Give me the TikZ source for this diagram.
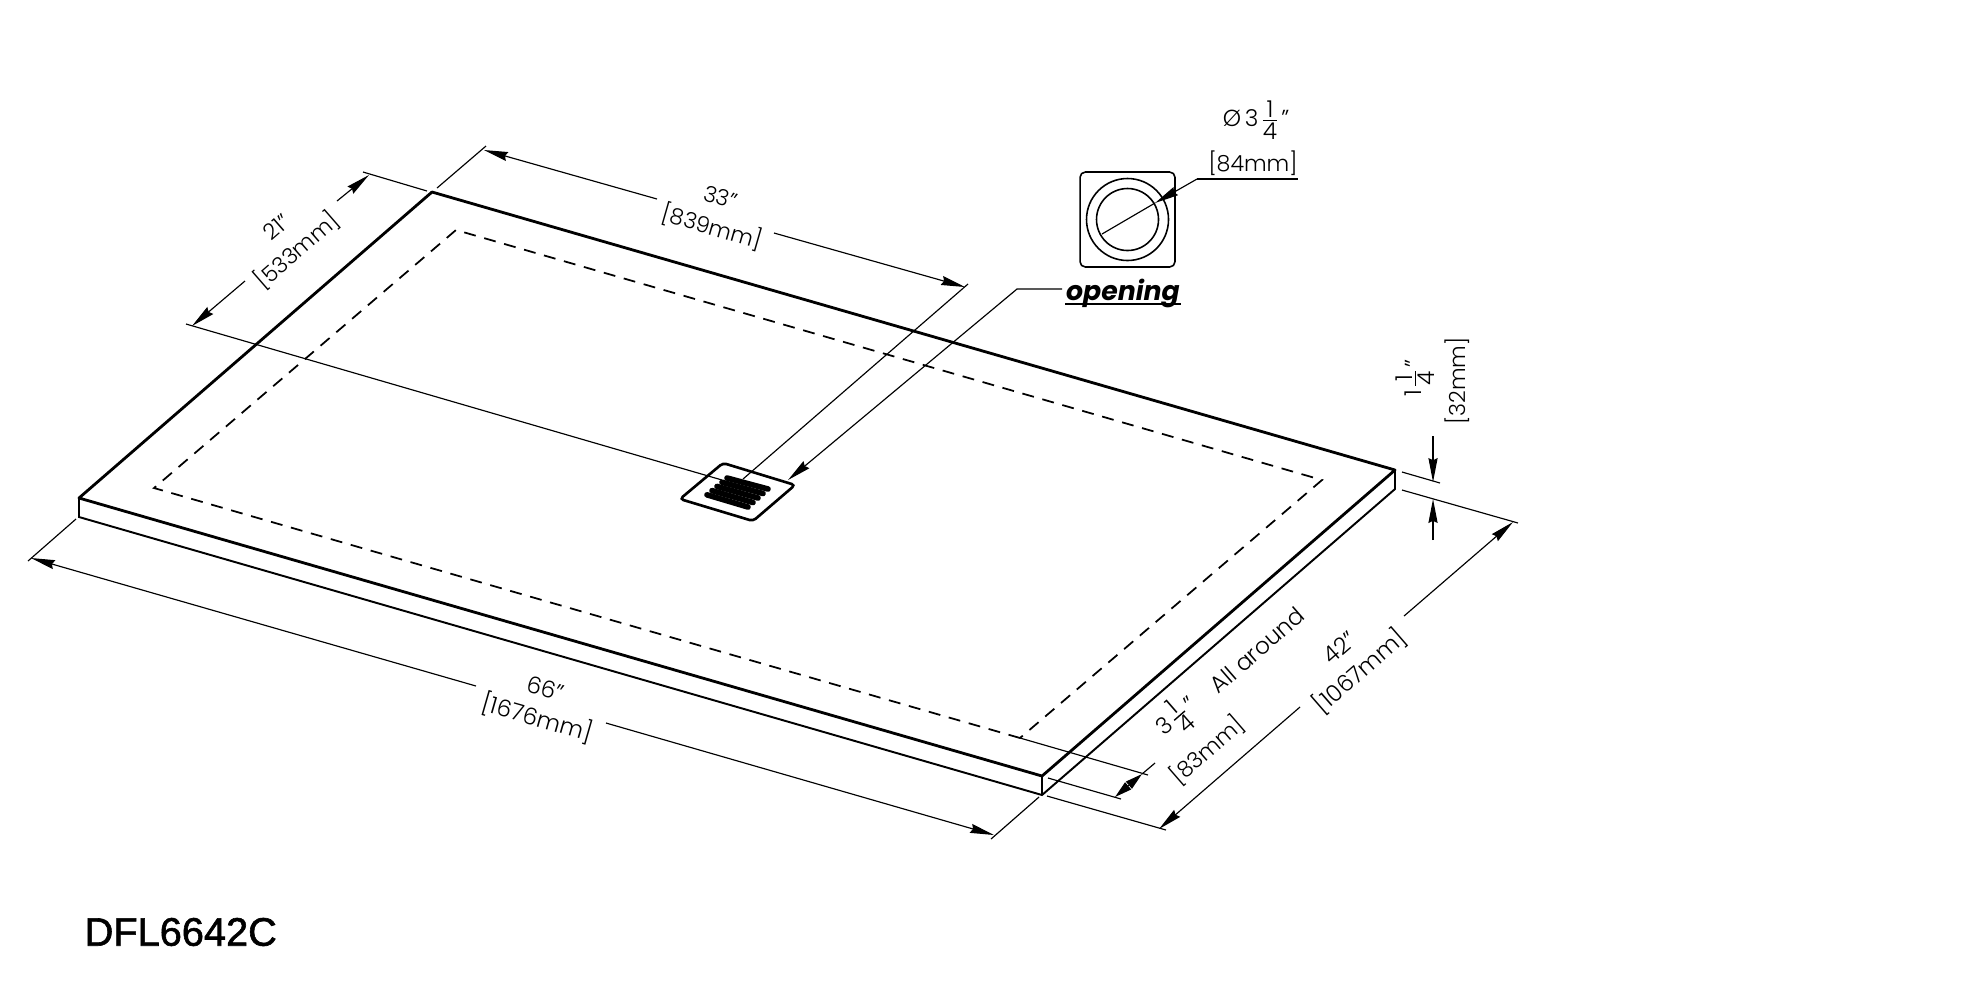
\documentclass[tikz,border=0pt]{standalone}
\usepackage{fontspec}
\usetikzlibrary{arrows.meta}
\setmainfont{Poppins Light}
\newfontfamily\openfont{Poppins}
\newfontfamily\titlefont[FakeBold=1.5]{Liberation Sans}
\newcommand{\dimfrac}[2]{$\frac{\mbox{#1}}{\mbox{#2}}$}
\begin{document}
\begin{tikzpicture}[
  x=0.01cm, y=-0.01cm,
  font=\fontsize{6.6}{8.8}\selectfont,
  edgeline/.style={line width=0.8pt, line join=round},
  lowline/.style={line width=0.55pt},
  dimline/.style={line width=0.33pt},
  arrowline/.style={line width=0.33pt, -{Stealth[length=6.8pt,width=2.6pt,inset=0.6pt]}},
  hiddenline/.style={line width=0.5pt, dash pattern=on 3.4pt off 2.5pt},
  dimtext/.style={inner sep=0pt, align=center},
  shorttext/.style={dimtext, font=\fontsize{6.3}{8.8}\selectfont}
]
\useasboundingbox (0,0) rectangle (1980,990);

% Plate corners
\coordinate (left) at (79,498);
\coordinate (leftlow) at (79,517);
\coordinate (back) at (432,192);
\coordinate (right) at (1395,470);
\coordinate (rightlow) at (1395,489);
\coordinate (front) at (1042,776);
\coordinate (frontlow) at (1042,795);

% Hidden border corners
\coordinate (hidleft) at (154,488);
\coordinate (hidback) at (456,230);
\coordinate (hidright) at (1322,480);
\coordinate (hidfront) at (1020,738);

% Plate
\draw[edgeline] (left) -- (back) -- (right) -- (front) -- cycle;
\draw[lowline] (left) -- (leftlow) -- (frontlow) -- (rightlow) -- (right);
\draw[lowline] (front) -- (frontlow);
\draw[hiddenline] (hidfront) -- (hidleft) -- (hidback) -- (hidright) -- (hidfront);

% Drain plate
\coordinate (draintop) at (723,463);
\coordinate (drainright) at (795,485);
\coordinate (drainlow) at (753,521);
\coordinate (drainleft) at (680,499);
\draw[line width=0.75pt, rounded corners=1pt] (draintop) -- (drainright) -- (drainlow) -- (drainleft) -- cycle;
\foreach \i in {0,1,2,3,4} {
  \draw[line width=1.6pt, line cap=round] ({727-5*\i},{478+4.2*\i}) -- ({768-5*\i},{489+4.5*\i});
}

% 66 inch dimension
\coordinate (a66) at (76,519);
\coordinate (b66) at (28,561);
\coordinate (c66) at (1039,797);
\coordinate (d66) at (991,839);
\coordinate (tipa66) at (31,558);
\coordinate (enda66) at (476,686);
\coordinate (tipb66) at (994,835);
\coordinate (endb66) at (606,723);
\draw[dimline] (a66) -- (b66);
\draw[dimline] (c66) -- (d66);
\draw[arrowline] (enda66) -- (tipa66);
\draw[arrowline] (endb66) -- (tipb66);
\node[dimtext, rotate=-16] (label66) at (541,705) {66"\\{[}1676mm{]}};

% 33 inch dimension
\coordinate (a33) at (437,188);
\coordinate (b33) at (486,146);
\coordinate (c33) at (743,479);
\coordinate (d33) at (968,284);
\coordinate (tipa33) at (484,150);
\coordinate (enda33) at (657,199);
\coordinate (tipb33) at (965,287);
\coordinate (endb33) at (774,233);
\draw[dimline] (a33) -- (b33);
\draw[dimline] (c33) -- (d33);
\draw[arrowline] (enda33) -- (tipa33);
\draw[arrowline] (endb33) -- (tipb33);
\node[shorttext, rotate=-16] (label33) at (716,214) {33"\\{[}839mm{]}};

% 21 inch dimension
\coordinate (a21) at (427,191);
\coordinate (b21) at (363,172);
\coordinate (c21) at (722,480);
\coordinate (d21) at (186,324);
\coordinate (tipa21) at (369,175);
\coordinate (enda21) at (337,201);
\coordinate (tipb21) at (192,326);
\coordinate (endb21) at (245,281);
\draw[dimline] (a21) -- (b21);
\draw[dimline] (c21) -- (d21);
\draw[arrowline] (enda21) -- (tipa21);
\draw[arrowline] (endb21) -- (tipb21);
\node[shorttext, rotate=41] (label21) at (288,240) {21"\\{[}533mm{]}};

% 42 inch dimension
\coordinate (a42) at (1402,490);
\coordinate (b42) at (1518,523);
\coordinate (c42) at (1047,796);
\coordinate (d42) at (1166,830);
\coordinate (tipa42) at (1513,522);
\coordinate (enda42) at (1404,616);
\coordinate (tipb42) at (1159,829);
\coordinate (endb42) at (1300,707);
\draw[dimline] (a42) -- (b42);
\draw[dimline] (c42) -- (d42);
\draw[arrowline] (enda42) -- (tipa42);
\draw[arrowline] (endb42) -- (tipb42);
\node[dimtext, rotate=41] (label42) at (1351,661) {42"\\{[}1067mm{]}};

% Border width dimension
\coordinate (a83) at (1148,775);
\coordinate (c83) at (1048,778);
\coordinate (d83) at (1121,799);
\coordinate (tipa83) at (1115,797);
\coordinate (tipb83) at (1142,774);
\coordinate (end83) at (1155,763);
\draw[dimline] (hidfront) -- (a83);
\draw[dimline] (c83) -- (d83);
\draw[dimline] (tipb83) -- (end83);
\draw[line width=0.33pt, {Stealth[length=4.9pt,width=2.6pt,inset=0pt]}-{Stealth[length=4.9pt,width=2.6pt,inset=0pt]}] (tipa83) -- (tipb83);
\node[dimtext, rotate=41] (label314) at (1177,717) {3\dimfrac{1}{4}"};
\node[shorttext, rotate=41] (label83) at (1207,750) {{[}83mm{]}};
\node[dimtext, rotate=41] (labelall) at (1257,650) {All around};

% Thickness dimension
\coordinate (a32) at (1402,472);
\coordinate (b32) at (1440,483);
\coordinate (enda32) at (1433,436);
\coordinate (tipa32) at (1433,482);
\coordinate (endb32) at (1433,540);
\coordinate (tipb32) at (1433,499);
\draw[dimline] (a32) -- (b32);
\draw[arrowline] (enda32) -- (tipa32);
\draw[arrowline] (endb32) -- (tipb32);
\node[dimtext, rotate=90] (label114) at (1415,378) {1\dimfrac{1}{4}"};
\node[shorttext, rotate=90] (label32) at (1457,381) {{[}32mm{]}};

% Opening leader
\coordinate (openbend) at (1017,289);
\coordinate (openend) at (1062,289);
\coordinate (opentip) at (788,480);
\draw[arrowline] (openend) -- (openbend) -- (opentip);
\node[inner sep=0pt, anchor=base] (opening) at (1123,300) {\fontsize{7.6}{10}\openfont\bfseries\itshape opening};
\draw[line width=0.65pt] ([yshift=-1.2pt]opening.base west) -- ([yshift=-1.2pt]opening.base east);

% Drain detail
\node[draw, line width=0.45pt, rounded corners=1.5pt, minimum size=27pt, inner sep=0pt] (detail) at (1127.5,219.5) {};
\draw[line width=0.45pt] (detail.center) circle (41);
\draw[line width=0.45pt] (detail.center) circle (31);
\coordinate (dialow) at (1102,234);
\coordinate (diatip) at (1155,203);
\coordinate (diabend) at (1197,179);
\coordinate (diaend) at (1298,179);
\draw[arrowline] (diabend) -- (diatip);
\draw[dimline] (dialow) -- (diatip);
\draw[dimline] (diabend) -- (diaend);
\node[dimtext] (labeldia) at (1256,120) {Ø\,3\dimfrac{1}{4}"};
\node[shorttext] (label84) at (1253,163) {{[}84mm{]}};

% Model name
\node[anchor=west, inner sep=0pt] (model) at (84,932) {\fontsize{11.3}{13}\titlefont DFL6642C};
\end{tikzpicture}
\end{document}
